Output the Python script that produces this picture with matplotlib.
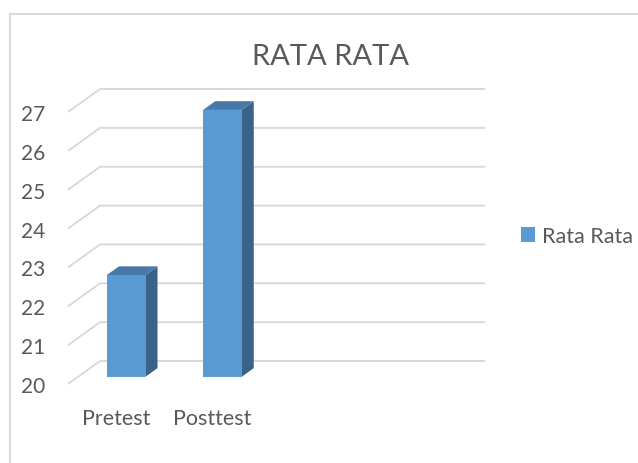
import numpy as np
import matplotlib
matplotlib.use("Agg")
import matplotlib.pyplot as plt
from matplotlib.patches import Polygon, Rectangle, Patch

plt.rcParams['font.family'] = ['Lato', 'DejaVu Sans']

# data
categories = ["Pretest", "Posttest"]
values = [22.62, 26.87]
series_name = "Rata Rata"
title = "RATA RATA"
y_ticks = [20, 21, 22, 23, 24, 25, 26, 27]
n_slots = 4  # the category axis has room for 4 columns

# look
front_col = '#5B9BD5'
top_col = '#4878AA'
side_col = '#3A6387'
grid_col = '#D9D9D9'
text_col = '#595959'

# depth of the pseudo 3D box, in data units
DX = 32 / 96.0
DY = 23 / 38.86
f0, f1 = 0.31, 0.69   # front / back of the columns inside the depth
bar_w = 0.4
y_min, y_max = 20, 27.6

fig = plt.figure(figsize=(6.38, 4.64), dpi=100)
ax = fig.add_axes([68 / 638, (464 - 385) / 464, 385 / 638, (385 - 89.7) / 464])
ax.set_xlim(-0.5, n_slots - 0.5)
ax.set_ylim(y_min, y_max)
for s in ax.spines.values():
    s.set_visible(False)

# wall gridlines (side wall + back wall)
for v in y_ticks:
    ax.plot([-0.5, -0.5 + DX, n_slots - 0.5 + DX], [v, v + DY, v + DY],
            color=grid_col, lw=1.4, clip_on=False, zorder=1, solid_capstyle='butt')

# columns
for i, v in enumerate(values):
    xl, xr = i - bar_w / 2, i + bar_w / 2
    front = Rectangle((xl + f0 * DX, y_min + f0 * DY), bar_w, v - y_min,
                      facecolor=front_col, edgecolor='none', zorder=3, clip_on=False)
    top = Polygon([(xl + f0 * DX, v + f0 * DY), (xr + f0 * DX, v + f0 * DY),
                   (xr + f1 * DX, v + f1 * DY), (xl + f1 * DX, v + f1 * DY)],
                  closed=True, facecolor=top_col, edgecolor='none', zorder=3, clip_on=False)
    side = Polygon([(xr + f0 * DX, y_min + f0 * DY), (xr + f0 * DX, v + f0 * DY),
                    (xr + f1 * DX, v + f1 * DY), (xr + f1 * DX, y_min + f1 * DY)],
                   closed=True, facecolor=side_col, edgecolor='none', zorder=3, clip_on=False)
    ax.add_patch(side)
    ax.add_patch(top)
    ax.add_patch(front)

ax.set_yticks(y_ticks)
ax.set_yticklabels([str(t) for t in y_ticks])
ax.set_xticks(range(len(categories)))
ax.set_xticklabels(categories)
ax.tick_params(axis='y', length=0, pad=16.5, labelsize=15, labelcolor=text_col)
ax.tick_params(axis='x', length=0, pad=17, labelsize=15.5, labelcolor=text_col)

fig.text(330 / 638, 1 - 57 / 464, title, ha='center', va='center',
         fontsize=21, color=text_col)

fig.legend(handles=[Patch(facecolor=front_col, edgecolor='none', label=series_name)],
           loc='center left', bbox_to_anchor=(521 / 638, 1 - 237 / 464),
           frameon=False, fontsize=15.5, handlelength=0.65, handleheight=0.65,
           handletextpad=0.33, borderpad=0, borderaxespad=0, labelcolor=text_col)

# chart area border (runs off the right and bottom of the picture)
fig.patches.append(Rectangle((9.5 / 638, -0.2), 1.2, 1.2 - 14.5 / 464,
                             transform=fig.transFigure, facecolor='none',
                             edgecolor=grid_col, lw=1.5, clip_on=False))

fig.savefig("out.png", dpi=100)
